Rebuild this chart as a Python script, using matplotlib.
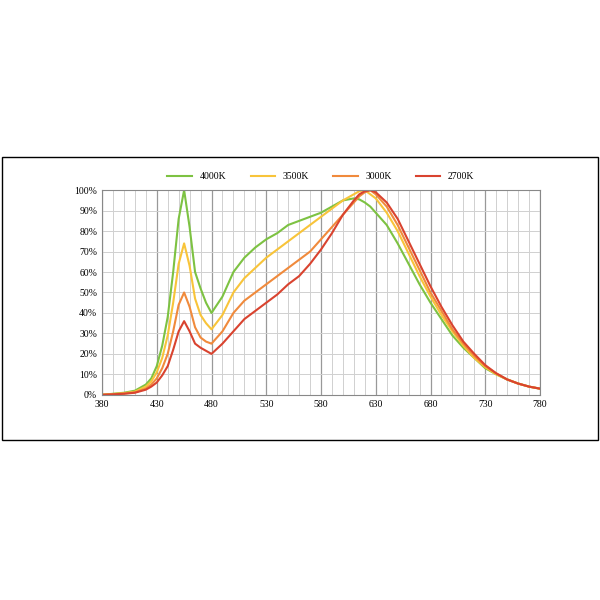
import matplotlib.pyplot as plt
from matplotlib.patches import Rectangle
from matplotlib.ticker import MultipleLocator, PercentFormatter

wl = [380, 390, 400, 410, 420, 425, 430, 435, 440, 445, 450, 455, 460, 465, 470, 475, 480, 490,
      500, 510, 520, 530, 540, 550, 560, 570, 580, 590, 600, 610, 615, 620, 625,
      630, 640, 650, 660, 670, 680, 690, 700, 710, 720, 730, 740, 750, 760, 770, 780]

k4000 = [0, 0.5, 1, 2, 5, 8, 14, 24, 38, 60, 86, 100, 82, 60, 52, 45, 40, 48,
         60, 67, 72, 76, 79, 83, 85, 87, 89, 92, 95, 96, 95.5, 94, 92,
         89, 83, 74, 64, 54, 45, 37, 29, 23, 18, 13, 10, 7.5, 5.5, 4, 3]
k3500 = [0, 0.4, 0.8, 1.5, 4, 6.5, 11, 18, 29, 45, 64, 74, 63, 47, 39, 35, 32, 39,
         50, 57, 62, 67, 71, 75, 79, 83, 87, 91, 95, 98, 99.5, 100, 98,
         96, 89, 80, 69, 58, 48, 39, 31, 24, 18, 13.5, 10, 7.5, 5.5, 4, 3]
k3000 = [0, 0.3, 0.6, 1.2, 3, 5, 8, 13, 20, 31, 44, 50, 43, 33, 28, 26, 25, 31,
         40, 46, 50, 54, 58, 62, 66, 70, 76, 82, 88, 94, 97, 99, 100,
         98, 92, 83, 72, 61, 50, 41, 32, 25, 19, 14, 10.5, 7.5, 5.5, 4, 3]
k2700 = [0, 0.2, 0.5, 1, 2.5, 4, 6, 9.5, 14, 22, 31, 36, 31, 25, 23, 21.5, 20, 25,
         31, 37, 41, 45, 49, 54, 58, 64, 71, 79, 88, 95, 98, 99.5, 100,
         99, 94, 86, 75, 64, 53, 43, 34, 26, 20, 14.5, 10.5, 7.5, 5.5, 4, 3]

series = [("4000K", k4000, "#7dc242"), ("3500K", k3500, "#f8c43a"),
          ("3000K", k3000, "#f08a3c"), ("2700K", k2700, "#d9432f")]

plt.rcParams["font.family"] = ["Liberation Serif", "DejaVu Serif"]

fig = plt.figure(figsize=(6, 6), dpi=100)
fig.patches.append(Rectangle((0.004, 0.267), 0.992, 0.471, transform=fig.transFigure,
                             fill=False, edgecolor="black", linewidth=1))
ax = fig.add_axes([0.17, 0.342, 0.73, 0.341])

for name, vals, color in series:
    ax.plot(wl, vals, color=color, linewidth=1.5, label=name)

ax.set_xlim(380, 780)
ax.set_ylim(0, 100)
ax.set_xticks(range(380, 781, 50))
ax.xaxis.set_minor_locator(MultipleLocator(10))
ax.yaxis.set_major_locator(MultipleLocator(10))
ax.yaxis.set_major_formatter(PercentFormatter(decimals=0))
ax.grid(True, which="major", axis="x", color="#999999", linewidth=0.9)
ax.grid(True, which="minor", axis="x", color="#d0d0d0", linewidth=0.7)
ax.grid(True, which="major", axis="y", color="#d0d0d0", linewidth=0.7)
ax.tick_params(which="both", length=0, labelsize=7)
for s in ax.spines.values():
    s.set_color("#888888")

ax.legend(loc="lower center", bbox_to_anchor=(0.5, 1.0), ncol=4, frameon=False,
          fontsize=7, handlelength=2.5, columnspacing=2.5)

fig.savefig("out.png", dpi=100)
